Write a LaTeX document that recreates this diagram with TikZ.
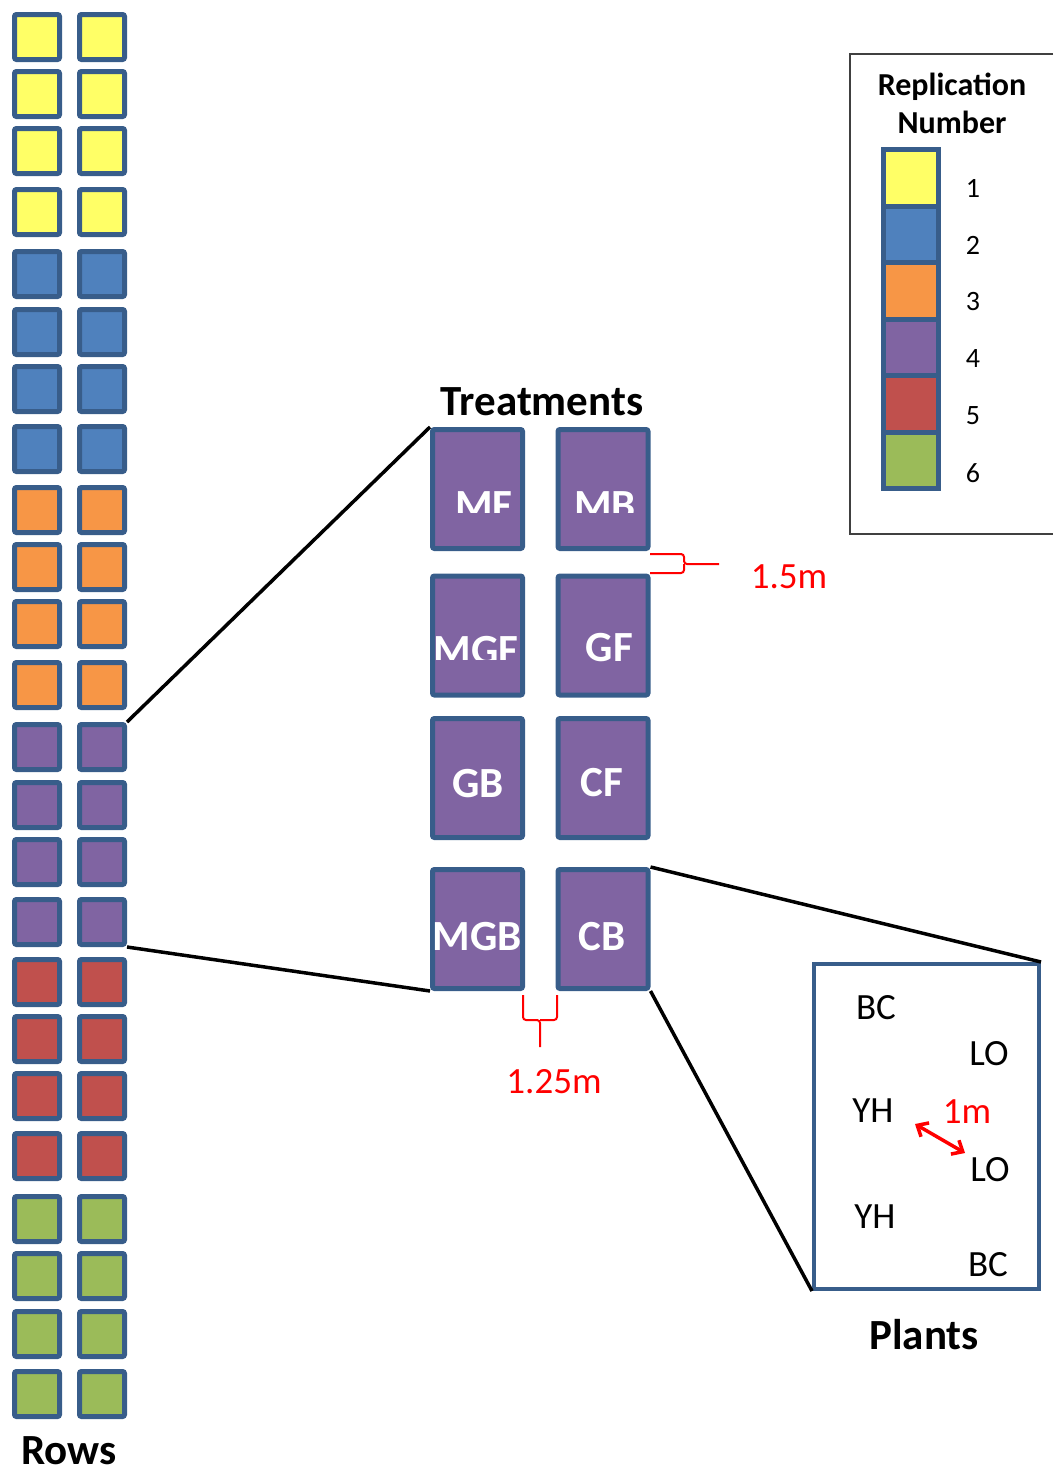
\documentclass[tikz,border=0pt]{standalone}
\usepackage{fontspec}
\setmainfont{Carlito}
\usetikzlibrary{arrows.meta}
\definecolor{edgeblue}{HTML}{385D8A}
\definecolor{repA}{HTML}{FFFF66}
\definecolor{repB}{HTML}{4F81BD}
\definecolor{repC}{HTML}{F79646}
\definecolor{repD}{HTML}{8064A2}
\definecolor{repE}{HTML}{C0504D}
\definecolor{repF}{HTML}{9BBB59}
\definecolor{dimred}{HTML}{FF0000}
\begin{document}
\begin{tikzpicture}[x=1pt,y=-1pt,
  plot/.style={draw=edgeblue, line width=5pt, rounded corners=2pt, inner sep=0pt,
    minimum width=45pt, minimum height=45pt},
  tbox/.style={draw=edgeblue, line width=5pt, rounded corners=2pt, inner sep=0pt,
    fill=repD, minimum width=90pt, minimum height=119pt},
  tlabel/.style={text=white, font=\fontsize{43}{50}\selectfont\bfseries, anchor=base, inner sep=0pt},
  swatch/.style={draw=edgeblue, line width=5pt, inner sep=0pt,
    minimum width=55pt, minimum height=56.5pt},
  heading/.style={font=\fontsize{43}{50}\selectfont\bfseries, anchor=base, inner sep=0pt},
  plantlbl/.style={font=\fontsize{37}{44}\selectfont, inner sep=0pt},
  dimlbl/.style={text=dimred, font=\fontsize{37}{44}\selectfont, inner sep=0pt},
  dimline/.style={draw=dimred, line width=2pt, rounded corners=3pt},
  link/.style={draw=black, line width=3.5pt}]
\useasboundingbox (0,0) rectangle (1053,1475);

% field rows: two columns of plots, four rows per replication
\foreach \y/\c [count=\i] in {37/repA,94/repA,151/repA,212/repA,
    274/repB,332/repB,389/repB,449/repB,
    510/repC,567/repC,624/repC,685/repC,
    747/repD,805/repD,862/repD,922/repD,
    982/repE,1039/repE,1096/repE,1156/repE,
    1219/repF,1276/repF,1334/repF,1394/repF}{
  \node[plot, fill=\c] (r\i a) at (37,\y) {};
  \node[plot, fill=\c] (r\i b) at (102,\y) {};
}
\node[heading] (rowslbl) at (69,1464) {Rows};

% treatments of one replication
\node[heading] (treatlbl) at (542,415) {Treatments};
\node[tbox] (mf)  at (477.5,489) {};
\node[tbox] (mb)  at (603,489) {};
\node[tbox] (mgf) at (477.5,635.5) {};
\node[tbox] (gf)  at (603,635.5) {};
\node[tbox] (gb)  at (477.5,778) {};
\node[tbox] (cf)  at (603,778) {};
\node[tbox] (mgb) at (477.5,929) {};
\node[tbox] (cb)  at (603,929) {};

\begin{scope}
  \clip (430,427) rectangle (660,512);
  \node[tlabel] (mftxt) at (484,519) {MF};
  \node[tlabel] (mbtxt) at (605,519) {MB};
\end{scope}
\begin{scope}
  \clip (430,573) rectangle (540,659);
  \node[tlabel] (mgftxt) at (476,664) {MGF};
\end{scope}
\node[tlabel] (gftxt)  at (609.5,661) {GF};
\node[tlabel] (gbtxt)  at (478,797) {GB};
\node[tlabel] (cftxt)  at (602,796) {CF};
\node[tlabel] (mgbtxt) at (477,950) {MGB};
\node[tlabel] (cbtxt)  at (602,950) {CB};

% spacing between treatments
\draw[dimline] (650,554) -- (684,554) -- (684,564) -- (719,564);
\draw[dimline] (650,573) -- (684,573) -- (684,564);
\node[dimlbl] (d15) at (789,577) {1.5m};
\draw[dimline] (523,995) -- (523,1020) -- (540,1020) -- (540,1047);
\draw[dimline] (557,995) -- (557,1020) -- (540,1020);
\node[dimlbl] (d125) at (554,1082) {1.25m};

% plants inside one treatment plot
\node[draw=edgeblue, line width=4pt, inner sep=0pt, minimum width=225pt,
  minimum height=325pt] (plants) at (926.5,1126.5) {};
\node[plantlbl] (p1) at (876,1008) {BC};
\node[plantlbl] (p2) at (989,1054) {LO};
\node[plantlbl] (p3) at (873,1111) {YH};
\node[plantlbl] (p4) at (990,1170) {LO};
\node[plantlbl] (p5) at (875,1217) {YH};
\node[plantlbl] (p6) at (988,1265) {BC};
\node[dimlbl] (d1) at (967,1112) {1m};
\coordinate (ma) at (915,1124);
\coordinate (mb) at (965,1153);
\draw[draw=dimred, line width=3.5pt,
  {Straight Barb[length=9pt,width=16pt]}-{Straight Barb[length=9pt,width=16pt]}] (ma) -- (mb);
\node[heading] (plantslbl) at (924,1349) {Plants};

% zoom connectors
\draw[link] (r13b.north east) -- (mf.north west);
\draw[link] (r16b.south east) -- (mgb.south west);
\draw[link] (cb.north east) -- (plants.north east);
\draw[link] (cb.south east) -- (plants.south west);

% legend
\draw[draw=black!75, line width=1.5pt] (1053,54) -- (850,54) -- (850,534) -- (1053,534);
\node[heading, font=\fontsize{32}{38}\selectfont\bfseries] (leg1) at (952,95) {Replication};
\node[heading, font=\fontsize{32}{38}\selectfont\bfseries] (leg2) at (952,133) {Number};
\foreach \c/\n [count=\k from 0] in {repA/1,repB/2,repC/3,repD/4,repE/5,repF/6}{
  \node[swatch, fill=\c] (sw\n) at (911,{149.5+56.5*(\k+0.5)}) {};
  \node[font=\fontsize{28}{33}\selectfont, inner sep=0pt] (sl\n) at (973,{188+57*\k}) {\n};
}
\end{tikzpicture}
\end{document}
